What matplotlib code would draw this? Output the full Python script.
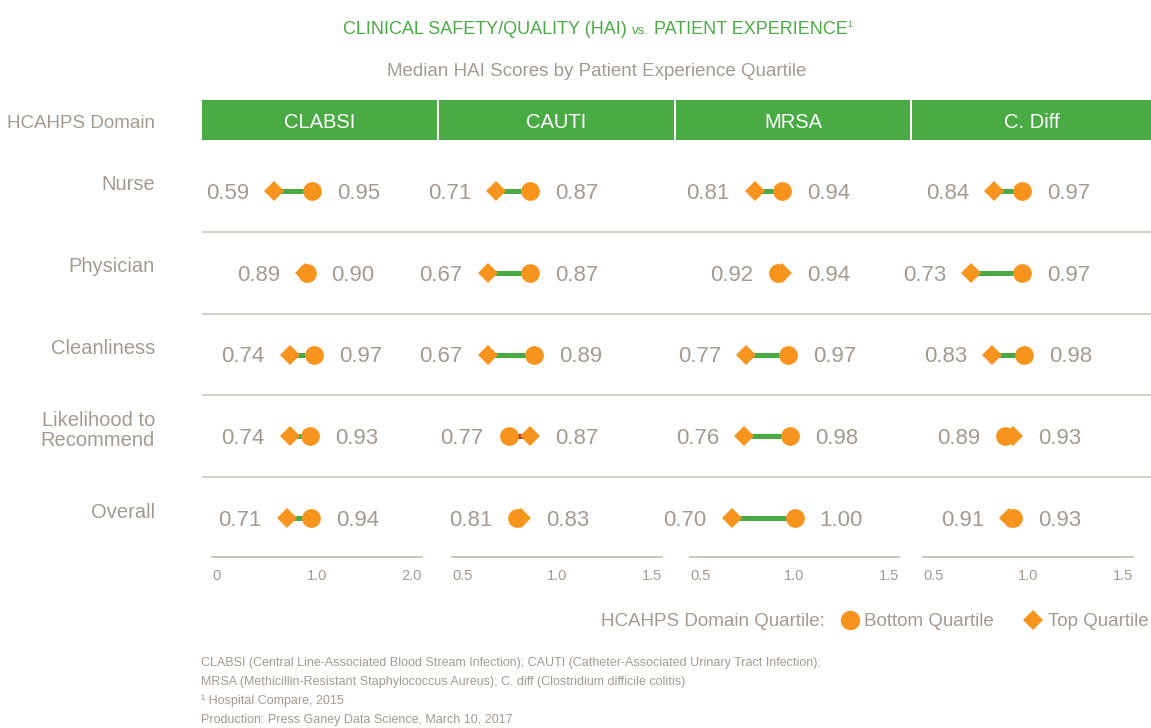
import numpy as np
import matplotlib
matplotlib.use('Agg')
import matplotlib.pyplot as plt
from matplotlib.patches import Rectangle
from matplotlib.lines import Line2D

plt.rcParams['font.family'] = ['Liberation Sans', 'DejaVu Sans']

# data
domains = ['Nurse', 'Physician', 'Cleanliness', 'Likelihood to\nRecommend', 'Overall']
measures = ['CLABSI', 'CAUTI', 'MRSA', 'C. Diff']
# top quartile (diamond) and bottom quartile (circle) median HAI scores
top_q = {
    'CLABSI': [0.59, 0.89, 0.74, 0.74, 0.71],
    'CAUTI': [0.71, 0.67, 0.67, 0.87, 0.83],
    'MRSA': [0.81, 0.94, 0.77, 0.76, 0.70],
    'C. Diff': [0.84, 0.73, 0.83, 0.93, 0.91],
}
bottom_q = {
    'CLABSI': [0.95, 0.90, 0.97, 0.93, 0.94],
    'CAUTI': [0.87, 0.87, 0.89, 0.77, 0.81],
    'MRSA': [0.94, 0.92, 0.97, 0.98, 1.00],
    'C. Diff': [0.97, 0.97, 0.98, 0.89, 0.93],
}
axis_ticks = {
    'CLABSI': [0, 1.0, 2.0],
    'CAUTI': [0.5, 1.0, 1.5],
    'MRSA': [0.5, 1.0, 1.5],
    'C. Diff': [0.5, 1.0, 1.5],
}
tick_labels = {
    'CLABSI': ['0', '1.0', '2.0'],
    'CAUTI': ['0.5', '1.0', '1.5'],
    'MRSA': ['0.5', '1.0', '1.5'],
    'C. Diff': ['0.5', '1.0', '1.5'],
}

W, H = 1151, 728
GRAY = '#a59a8f'
LINEGRAY = '#d3cbc4'
GREEN = '#4aab45'
ORANGE = '#f7941d'
RED = '#c1272d'

fig = plt.figure(figsize=(W / 100, H / 100), dpi=100)


def px_axes(x0, y0, x1, y1, **kw):
    return fig.add_axes([x0 / W, 1 - y1 / H, (x1 - x0) / W, (y1 - y0) / H], **kw)


# overlay in pixel coordinates for titles etc.
ov = px_axes(0, 0, W, H)
ov.set_xlim(0, W)
ov.set_ylim(H, 0)
ov.axis('off')

# title
t1 = ov.text(343, 27, 'CLINICAL SAFETY/QUALITY (HAI) ', color=GREEN, fontsize=13,
             ha='left', va='center_baseline')
t2 = ov.annotate('vs.', xy=(1, 0), xycoords=t1, color=GREEN, fontsize=9.5,
                 ha='left', va='bottom')
t3 = ov.annotate(' PATIENT EXPERIENCE', xy=(1, 0), xycoords=t2, color=GREEN,
                 fontsize=13, ha='left', va='bottom')
ov.annotate('1', xy=(1, 0.5), xycoords=t3, color=GREEN, fontsize=6.5,
            ha='left', va='bottom')
ov.text(597, 70, 'Median HAI Scores by Patient Experience Quartile', color=GRAY,
        fontsize=13.5, ha='center', va='center_baseline')

# header row
ov.text(155, 121, 'HCAHPS Domain', color=GRAY, fontsize=13.5, ha='right', va='center_baseline')
boxes = [(202, 437), (439, 674), (676, 910), (912, 1151)]
for (bx0, bx1), m in zip(boxes, measures):
    ov.add_patch(Rectangle((bx0, 100), bx1 - bx0, 40, color=GREEN, lw=0))
    ov.text((bx0 + bx1) / 2, 121, m, color='white', fontsize=14.5, ha='center',
            va='center_baseline')

# row layout
row_y0 = 191
row_dy = 81.75
top_px, bot_px = 140, 557
ylim = ((bot_px - row_y0) / row_dy, (top_px - row_y0) / row_dy)

# separators and row labels
bg = px_axes(202, top_px, W, bot_px, zorder=0)
bg.set_ylim(*ylim)
bg.set_xlim(0, 1)
bg.axis('off')
for i in range(len(domains) - 1):
    bg.axhline(i + 0.5, color=LINEGRAY, lw=1.3)
for i, d in enumerate(domains):
    ov.text(155, row_y0 + i * row_dy - 6, d, color=GRAY, fontsize=14.5, ha='right',
            va='center', linespacing=1.1)

# panels: pixel position of first/last tick
axis_px = [(212, 422), (452, 662), (690, 899), (923, 1133)]
for (bx0, bx1), (ax0, ax1), m in zip(boxes, axis_px, measures):
    ax = px_axes(bx0, top_px, bx1, bot_px)
    ticks = axis_ticks[m]
    lo, hi = ticks[0], ticks[-1]
    scale = (ax1 - ax0) / (hi - lo)
    ax.set_xlim(lo - (ax0 - bx0) / scale, hi + (bx1 - ax1) / scale)
    ax.set_ylim(*ylim)
    ax.patch.set_visible(False)
    for s in ['top', 'left', 'right']:
        ax.spines[s].set_visible(False)
    ax.spines['bottom'].set_bounds(lo, hi)
    ax.spines['bottom'].set_color('#c9bfb6')
    ax.spines['bottom'].set_linewidth(1.3)
    ax.set_yticks([])
    ax.set_xticks(ticks)
    ax.set_xticklabels(tick_labels[m])
    ax.tick_params(axis='x', length=0, pad=9, labelsize=10.5, labelcolor=GRAY)
    labs = ax.get_xticklabels()
    labs[0].set_ha('left')
    labs[-1].set_ha('right')

    tq = top_q[m]
    bq = bottom_q[m]
    for i in range(len(domains)):
        c = GREEN if tq[i] <= bq[i] else RED
        ax.plot([tq[i], bq[i]], [i, i], color=c, lw=3.6, solid_capstyle='butt', zorder=2)
        ax.plot(tq[i], i, marker='D', ms=10.5, color=ORANGE, mew=0, zorder=3)
        ax.plot(bq[i], i, marker='o', ms=13.5, color=ORANGE, mew=0, zorder=4)
        vmin, vmax = min(tq[i], bq[i]), max(tq[i], bq[i])
        ax.annotate('%.2f' % vmin, xy=(vmin, i), xytext=(-18, 0), textcoords='offset points',
                    ha='right', va='center_baseline', fontsize=16, color=GRAY)
        ax.annotate('%.2f' % vmax, xy=(vmax, i), xytext=(18, 0), textcoords='offset points',
                    ha='left', va='center_baseline', fontsize=16, color=GRAY)

# legend
ov.text(825, 620, 'HCAHPS Domain Quartile:', color=GRAY, fontsize=13.5, ha='right',
        va='center_baseline')
ov.add_line(Line2D([850], [620], marker='o', ms=14, color=ORANGE, mew=0))
ov.text(864, 620, 'Bottom Quartile', color=GRAY, fontsize=13.5, ha='left', va='center_baseline')
ov.add_line(Line2D([1033], [620], marker='D', ms=10.5, color=ORANGE, mew=0))
ov.text(1048, 620, 'Top Quartile', color=GRAY, fontsize=13.5, ha='left', va='center_baseline')

# footnotes
notes = [
    'CLABSI (Central Line-Associated Blood Stream Infection); CAUTI (Catheter-Associated Urinary Tract Infection);',
    'MRSA (Methicillin-Resistant Staphylococcus Aureus); C. diff (Clostridium difficile colitis)',
    '\u00b9 Hospital Compare, 2015',
    'Production: Press Ganey Data Science, March 10, 2017',
]
for k, n in enumerate(notes):
    ov.text(201, 663 + k * 19, n, color=GRAY, fontsize=9, ha='left', va='center')

fig.savefig('out.png', dpi=100)
